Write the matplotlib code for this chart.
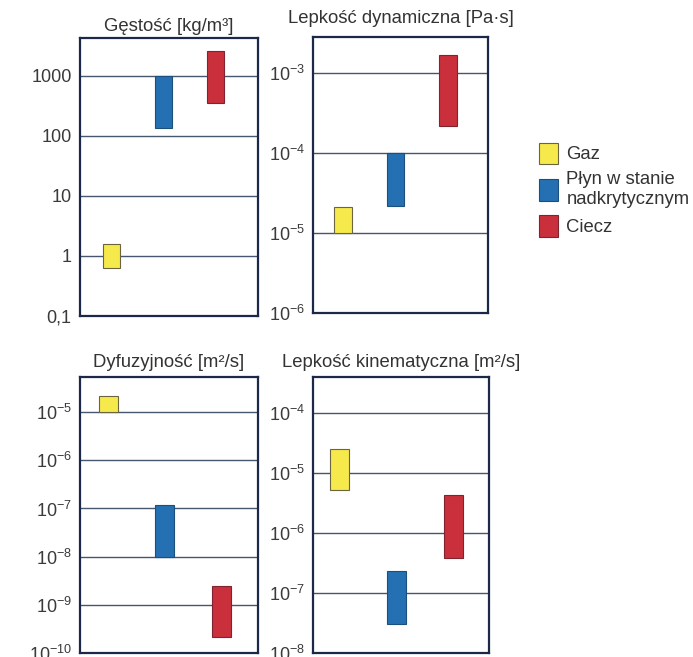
import matplotlib
matplotlib.use("Agg")
import matplotlib.pyplot as plt
from matplotlib.patches import Patch

plt.rcParams['font.family'] = ['Liberation Sans', 'DejaVu Sans']
plt.rcParams['mathtext.fontset'] = 'custom'
plt.rcParams['mathtext.rm'] = 'Liberation Sans'
plt.rcParams['mathtext.it'] = 'Liberation Sans:italic'
plt.rcParams['mathtext.bf'] = 'Liberation Sans:bold'

# Phases shown in each panel
categories = ["Gaz", "Płyn w stanie\nnadkrytycznym", "Ciecz"]
colors = ["#f6e94c", "#2470b3", "#c9303c"]
edges = ["#6b6440", "#1d4f7c", "#7d2430"]

# Value ranges (low, high) for gas, supercritical fluid, liquid
density_low = [0.63, 135, 355]
density_high = [1.6, 1000, 2600]

dyn_visc_low = [1.0e-5, 2.2e-5, 2.2e-4]
dyn_visc_high = [2.1e-5, 1.0e-4, 1.7e-3]

diffusivity_low = [1.0e-5, 1.0e-8, 2.2e-10]
diffusivity_high = [2.2e-5, 1.2e-7, 2.5e-9]

kin_visc_low = [5.2e-6, 3.0e-8, 3.8e-7]
kin_visc_high = [2.5e-5, 2.3e-7, 4.3e-6]

# Tick positions and labels
density_ticks = [0.1, 1, 10, 100, 1000]
density_labels = ["0,1", "1", "10", "100", "1000"]
dyn_visc_exp = [-6, -5, -4, -3]
diffusivity_exp = [-10, -9, -8, -7, -6, -5]
kin_visc_exp = [-8, -7, -6, -5, -4]


def pow_labels(exps):
    return [r"$\mathregular{10^{%d}}$" % e for e in exps]


W, H = 693, 657
fig = plt.figure(figsize=(W / 100, H / 100), dpi=100)
fig.patch.set_facecolor("white")

panels = [
    # title, low, high, ticks, labels, rect(px: left, top, right, bottom), ylim, xlim, title pad
    ("Gęstość [kg/m³]", density_low, density_high,
     density_ticks, density_labels, (80, 38, 258, 316), (0.1, 10 ** 3.63), (0.40, 3.81), 5),
    ("Lepkość dynamiczna [Pa·s]", dyn_visc_low, dyn_visc_high,
     [10.0 ** e for e in dyn_visc_exp], pow_labels(dyn_visc_exp), (313, 37, 488, 313),
     (1e-6, 10 ** -2.55), (0.43, 3.76), 10),
    ("Dyfuzyjność [m²/s]", diffusivity_low, diffusivity_high,
     [10.0 ** e for e in diffusivity_exp], pow_labels(diffusivity_exp), (80, 377, 258, 653),
     (1e-10, 10 ** -4.27), (0.50, 3.65), 7),
    ("Lepkość kinematyczna [m²/s]", kin_visc_low, kin_visc_high,
     [10.0 ** e for e in kin_visc_exp], pow_labels(kin_visc_exp), (313, 377, 489, 653),
     (1e-8, 10 ** -3.4), (0.54, 3.62), 7),
]

x = [1, 2, 3]
for title, low, high, ticks, labels, rect, ylim, xlim, tpad in panels:
    l, t, r, b = rect
    ax = fig.add_axes([l / W, 1 - b / H, (r - l) / W, (b - t) / H])
    ax.set_yscale("log")
    ax.set_ylim(*ylim)
    ax.set_xlim(*xlim)
    for i in range(3):
        ax.bar(x[i], high[i] - low[i], bottom=low[i], width=0.33,
               color=colors[i], edgecolor=edges[i], linewidth=0.8, zorder=3)
    ax.set_yticks(ticks)
    ax.set_yticklabels(labels)
    ax.minorticks_off()
    ax.tick_params(axis="y", length=0, pad=6, labelsize=13, labelcolor="#3a3a3a")
    ax.set_xticks([])
    for tk in ticks[1:]:
        ax.axhline(tk, color="#46566c", linewidth=1.0, zorder=1)
    for s in ax.spines.values():
        s.set_color("#1c2848")
        s.set_linewidth(1.6)
    ax.set_title(title, fontsize=13.3, color="#333333", pad=tpad)

handles = [Patch(facecolor=c, edgecolor=e, linewidth=0.8) for c, e in zip(colors, edges)]
fig.legend(handles, categories, loc="upper left", bbox_to_anchor=(522 / W, 1 - 126 / H),
           frameon=False, fontsize=13.3, handlelength=1.05, handleheight=1.4,
           handletextpad=0.45, labelspacing=0.4, labelcolor="#333333")

fig.savefig("out.png", dpi=100, facecolor="white")
